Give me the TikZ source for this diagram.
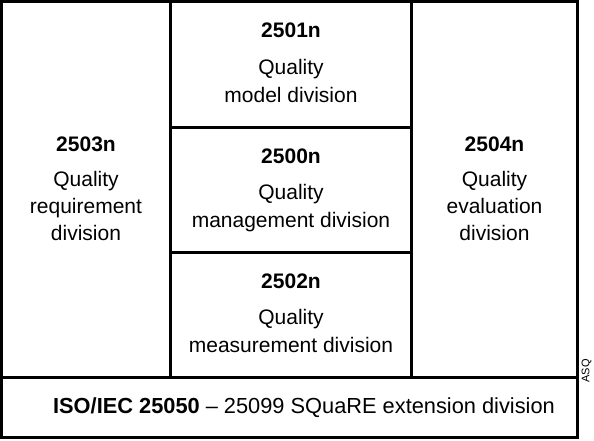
\documentclass[tikz,border=0pt]{standalone}
\usepackage{fontspec}
\setmainfont{Liberation Sans}
\begin{document}
\begin{tikzpicture}[x=1pt,y=-1pt,
  frame/.style={line width=3pt},
  lbl/.style={font=\fontsize{21}{27}\selectfont, align=center, inner sep=0pt, anchor=north},
  lblm/.style={font=\fontsize{21}{28}\selectfont, align=center, inner sep=0pt, anchor=north},
  foot/.style={font=\fontsize{21.8}{26}\selectfont, inner sep=0pt, anchor=base},
  tag/.style={font=\fontsize{11}{12}\selectfont, inner sep=0pt, rotate=90}]
\useasboundingbox (0,0) rectangle (594,440);
\fill[white] (0,0) rectangle (594,440);
% frame and divisions
\draw[frame] (1.5,1.5) rectangle (577.5,437.5);
\draw[frame] (170.5,1.5) -- (170.5,377);
\draw[frame] (411.5,1.5) -- (411.5,377);
\draw[frame] (170.5,127) -- (411.5,127);
\draw[frame] (170.5,252) -- (411.5,252);
\draw[frame] (1.5,377) -- (577.5,377);
% labels
\node[lblm] (d1) at (291,23) {\textbf{2501n}\\[9pt]Quality\\model division};
\node[lblm] (d0) at (291,149) {\textbf{2500n}\\[8pt]Quality\\management division};
\node[lblm] (d2) at (291,274) {\textbf{2502n}\\[8pt]Quality\\measurement division};
\node[lbl] (d3) at (86,137) {\textbf{2503n}\\[8pt]Quality\\requirement\\division};
\node[lbl] (d4) at (494.5,137) {\textbf{2504n}\\[8pt]Quality\\evaluation\\division};
\node[foot] (d5) at (304,413) {\textbf{ISO/IEC 25050} -- 25099 SQuaRE extension division};
\node[tag] (asq) at (586.5,371) {ASQ};
\end{tikzpicture}
\end{document}
